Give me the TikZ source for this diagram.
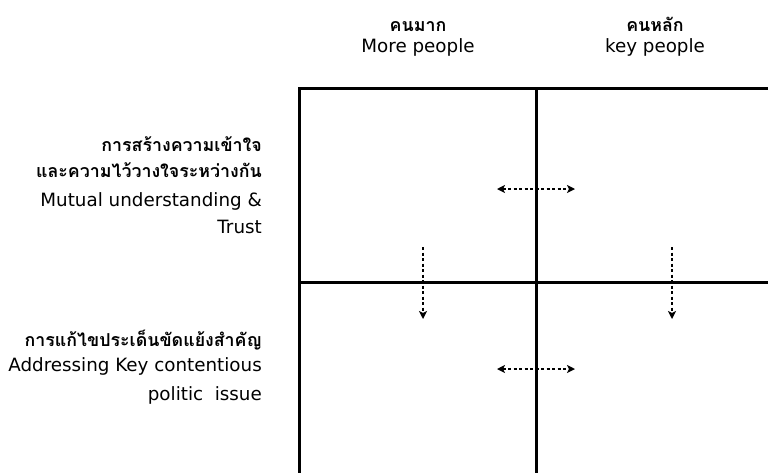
\documentclass[tikz,border=0pt]{standalone}
\usepackage{fontspec}
\setmainfont{DejaVu Sans}
\newfontfamily\thai[Script=Thai]{Loma}
\usetikzlibrary{arrows.meta}
\tikzset{
  gridline/.style={line width=3pt, line cap=rect},
  tip/.tip={Stealth[length=8pt,width=8pt,inset=2pt]},
  flow/.style={line width=1.4pt, dash pattern=on 3pt off 2.5pt, tip-tip},
  down/.style={line width=1.4pt, dash pattern=on 3pt off 2.5pt, -tip},
  th/.style={font=\thai\bfseries\fontsize{17.8}{20}\selectfont, inner sep=0pt},
  en/.style={font=\fontsize{18.3}{20}\selectfont, inner sep=0pt},
  rl/.style={anchor=base east},
  hd/.style={anchor=base},
}
\begin{document}
\begin{tikzpicture}[x=1pt,y=-1pt]
\useasboundingbox (0,0) rectangle (768,472);
% grid
\coordinate (tl) at (299,88);
\coordinate (tr) at (768,88);
\coordinate (bl) at (299,472);
\coordinate (tm) at (536,88);
\coordinate (bm) at (536,472);
\coordinate (ml) at (299,282);
\coordinate (mr) at (768,282);
\draw[gridline] (bl) -- (tl) -- (tr);
\draw[gridline] (tm) -- (bm);
\draw[gridline] (ml) -- (mr);
% headers
\node[th,hd] (h1t) at (418,31) {คนมาก};
\node[en,hd] (h1e) at (418,52) {More people};
\node[th,hd] (h2t) at (655,31) {คนหลัก};
\node[en,hd] (h2e) at (655,52) {key people};
% row labels
\node[th,rl] (r1a) at (262,151) {การสร้างความเข้าใจ};
\node[th,rl] (r1b) at (262,177) {และความไว้วางใจระหว่างกัน};
\node[en,rl] (r1c) at (262,206) {Mutual understanding \&};
\node[en,rl] (r1d) at (262,233) {Trust};
\node[th,rl] (r2a) at (262,346) {การแก้ไขประเด็นขัดแย้งสำคัญ};
\node[en,rl] (r2b) at (262,371) {Addressing Key contentious};
\node[en,rl] (r2c) at (262,400) {politic~ issue};
% arrows
\coordinate (a1l) at (497,189);
\coordinate (a1r) at (575,189);
\coordinate (a2l) at (497,369);
\coordinate (a2r) at (575,369);
\coordinate (d1t) at (423,247);
\coordinate (d1b) at (423,319);
\coordinate (d2t) at (672,247);
\coordinate (d2b) at (672,319);
\draw[flow] (a1l) -- (a1r);
\draw[flow] (a2l) -- (a2r);
\draw[down] (d1t) -- (d1b);
\draw[down] (d2t) -- (d2b);
\end{tikzpicture}
\end{document}
